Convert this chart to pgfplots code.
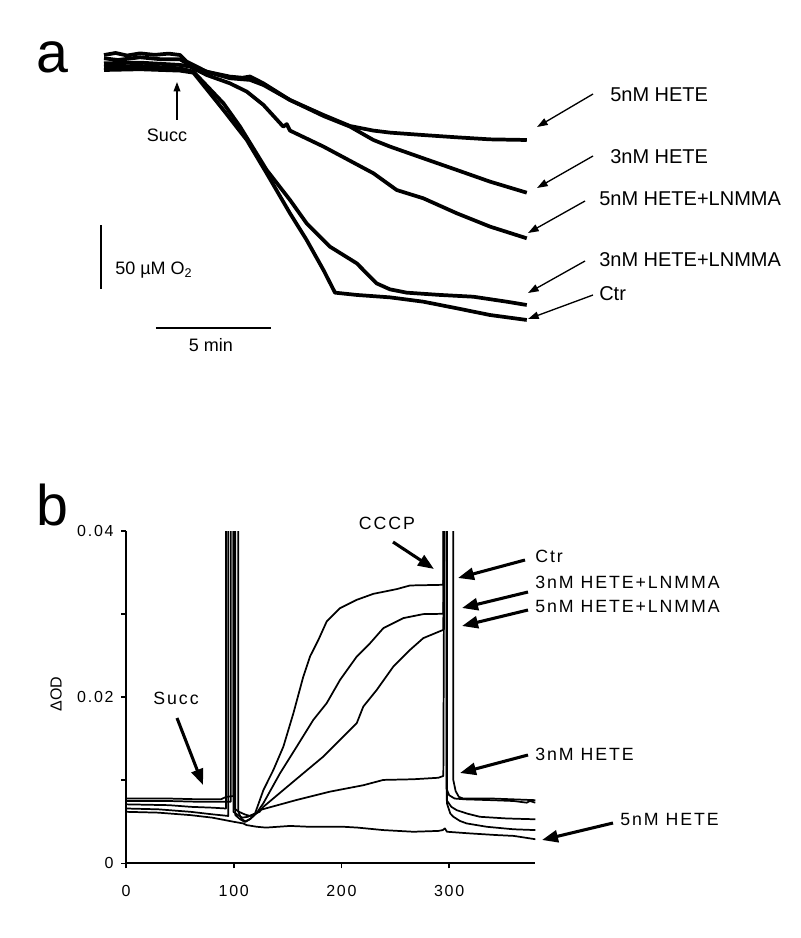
\documentclass[border=0pt]{standalone}
\usepackage{fontspec}
\setmainfont{Liberation Sans}
\newfontfamily\lsfont[LetterSpace=11]{Liberation Sans}
\usepackage{pgfplots}
\pgfplotsset{compat=1.18}
\usetikzlibrary{arrows.meta}
\pgfplotsset{
  tra/.style={black, line width=2.8pt, line join=round, mark=none},
  trb/.style={black, line width=1.3pt, line join=round, mark=none}}
\begin{document}
\begin{tikzpicture}
% ---------- panel a ----------
\begin{axis}[at={(69.34pt,-254.55pt)}, anchor=south west, scale only axis,
  width=329.2pt, height=219.1pt, xmin=-0.5, xmax=18.5, ymin=-220, ymax=10,
  hide axis, clip=false]
% 5nM HETE
\addplot[tra] coordinates {(0,3.9)(0.5,5.5)(1.0,3.5)(1.56,5.2)(2.2,4.0)(2.8,5.0)(3.29,3.9)(3.58,-1.3)(4.44,-9.2)(5.45,-13.1)(6.0,-14.0)(6.32,-13.0)(6.90,-18.4)(8.05,-31.5)(9.50,-43.3)(10.65,-52.0)(11.66,-55.6)(12.38,-57.2)(13.82,-59.1)(15.27,-60.9)(16.71,-62.5)(18.30,-63.0)};
% 3nM HETE
\addplot[tra] coordinates {(0,1.3)(0.6,0.0)(1.56,2.1)(2.5,0.5)(3.29,0.5)(3.58,-2.6)(4.44,-9.2)(5.45,-14.4)(6.32,-15.7)(6.90,-19.7)(8.05,-31.5)(9.50,-44.1)(10.65,-52.5)(11.66,-63.0)(12.38,-68.2)(13.82,-77.4)(15.27,-86.6)(16.71,-95.8)(18.30,-104.5)};
% 5nM HETE+LNMMA
\addplot[tra] coordinates {(0,-2.6)(1.56,-2.1)(3.29,-3.9)(3.72,-5.2)(4.44,-11.8)(5.45,-18.4)(6.18,-24.9)(6.90,-35.4)(7.76,-52.5)(7.91,-50.5)(8.05,-55.6)(9.50,-68.2)(11.66,-89.2)(12.67,-102.4)(13.82,-108.9)(15.27,-120.7)(16.71,-131.2)(18.30,-140.4)};
% 3nM HETE+LNMMA
\addplot[tra] coordinates {(0,-5.2)(1.56,-4.7)(3.29,-6.6)(3.87,-9.2)(5.17,-34.1)(5.89,-52.5)(7.04,-86.6)(8.05,-110.2)(8.77,-128.6)(9.78,-147.0)(10.94,-160.1)(11.80,-175.9)(12.38,-180.6)(13.10,-183.2)(14.55,-185.0)(15.99,-186.4)(17.43,-190.3)(18.30,-192.9)};
% Ctr
\addplot[tra] coordinates {(0,-7.9)(1.56,-7.3)(3.29,-8.4)(3.87,-10.0)(5.17,-39.4)(6.18,-63.0)(7.04,-89.2)(8.05,-120.7)(8.77,-141.7)(9.50,-165.4)(10.0,-183.2)(10.94,-185.0)(12.38,-186.9)(13.82,-190.3)(15.27,-195.5)(16.71,-200.8)(18.30,-204.7)};
% scale bars
\addplot[black, line width=1pt] coordinates {(-0.13,-130)(-0.13,-180)};
\addplot[black, line width=1pt] coordinates {(2.24,-211)(7.24,-211)};
\end{axis}
% ---------- panel b ----------
\begin{axis}[at={(94.5pt,-647.48pt)}, anchor=south west, scale only axis,
  width=307pt, height=249.2pt, xmin=0, xmax=380, ymin=0, ymax=0.04,
  axis lines*=left, tick align=outside, major tick length=3.75pt,
  axis line style={line width=1.4pt}, tick style={line width=1.2pt, black},
  xtick={0,100,200,300}, xticklabels={0,100,200,300},
  ytick={0,0.01,0.02,0.03,0.04}, yticklabels={0,,0.02,,0.04},
  scaled y ticks=false,
  /pgf/number format/assume math mode=true,
  tick label style={font=\lsfont\fontsize{12}{14}\selectfont},
  xticklabel style={yshift=-9pt}, yticklabel style={xshift=-2pt}]
% Ctr
\addplot[trb] coordinates {(0,0.0078)(40,0.0078)(70,0.0077)(88,0.0077)(93,0.0080)(99.7,0.0081)(99.7,0.06)(104.3,0.06)(104.3,0.0062)(107,0.0054)(111,0.0050)(115,0.0053)(119.8,0.0060)(127.5,0.0088)(136.8,0.01124)(146.1,0.01405)(155.4,0.01807)(164.6,0.02248)(170.8,0.02489)(178.6,0.0269)(186.3,0.02911)(198.7,0.03072)(214.2,0.03172)(229.6,0.03244)(251.3,0.03301)(263.7,0.03345)(294.6,0.03353)(295.5,0.06)(303.9,0.06)(303.9,0.0100)(306,0.0087)(309,0.0080)(313,0.0078)(340,0.0078)(360,0.0077)(380,0.0076)};
% 3nM HETE+LNMMA
\addplot[trb] coordinates {(0,0.0075)(40,0.0075)(70,0.0074)(97.2,0.0074)(97.2,0.06)(100.5,0.06)(100.5,0.0066)(105,0.0062)(110,0.0059)(115,0.0057)(121,0.0060)(127.5,0.00723)(143,0.01084)(158.5,0.01405)(173.9,0.01727)(186.3,0.01928)(198.7,0.02208)(214.2,0.02489)(226.6,0.0265)(238.9,0.02831)(257.5,0.02952)(276,0.03)(294.6,0.03004)(295,0.06)(297.5,0.06)(297.5,0.0090)(300,0.0082)(305,0.0078)(315,0.0077)(340,0.0076)(360,0.0075)(372,0.0073)(375,0.0075)(380,0.0073)};
% 5nM HETE+LNMMA
\addplot[trb] coordinates {(0,0.0071)(40,0.0070)(60,0.0068)(80,0.0067)(92.8,0.0066)(92.8,0.06)(99.7,0.06)(99.7,0.0062)(104,0.0058)(108,0.0055)(113,0.0056)(118,0.0059)(124,0.0062)(127.5,0.0068)(146.1,0.00883)(164.6,0.01084)(183.2,0.01285)(198.7,0.01486)(214.2,0.01687)(220.3,0.01887)(232.8,0.02088)(248.2,0.02369)(263.7,0.0257)(276,0.02711)(294.6,0.02811)(295,0.06)(297.7,0.06)(297.7,0.0076)(302,0.0068)(307,0.0064)(316.3,0.0060)(328.6,0.0056)(353.4,0.0054)(380,0.0053)};
% 3nM HETE
\addplot[trb] coordinates {(0,0.0066)(30,0.0065)(60,0.0062)(80,0.0059)(95,0.0057)(95,0.06)(101.5,0.06)(101.5,0.0058)(106,0.0053)(110,0.0050)(116,0.0054)(124.4,0.00642)(158.5,0.00763)(189.4,0.00863)(220.3,0.0094)(238.9,0.01004)(266.8,0.01012)(290,0.0103)(294.6,0.01052)(296,0.06)(298,0.06)(298,0.0072)(301,0.0060)(304,0.0056)(310,0.0051)(316.3,0.0048)(334.8,0.0044)(359.5,0.0041)(380,0.0040)};
% 5nM HETE
\addplot[trb] coordinates {(0,0.0062)(30,0.0061)(60,0.0058)(80,0.0055)(92,0.0052)(100,0.0050)(108.9,0.0048)(112,0.0046)(121.4,0.0044)(130,0.0043)(152.3,0.0045)(170,0.0044)(201.8,0.0044)(215,0.0043)(238.9,0.0040)(266.8,0.0038)(290,0.0039)(294,0.0040)(296,0.0042)(298,0.0038)(319.4,0.0036)(344.2,0.0034)(360,0.0033)(380,0.0029)};
\end{axis}
% ---------- annotations (pixel coordinates) ----------
\begin{scope}[x=0.75pt,y=-0.75pt]
\path (0,0) rectangle (800,938);
\node[anchor=base west, inner sep=0, font=\fontsize{43}{46}\selectfont] at (36,73) {a};
\node[anchor=base west, inner sep=0, font=\fontsize{43}{46}\selectfont] at (36,525) {b};
% panel a
\begin{scope}[font=\fontsize{13.5}{15}\selectfont]
\node[inner sep=0] at (167,135) {Succ};
\node[anchor=west, inner sep=0] at (115,270) {50 µM O\textsubscript{2}};
\node[inner sep=0] at (211,345) {5 min};
\end{scope}
\draw[line width=1pt, -{Triangle[length=7pt,width=5pt]}] (177,120) -- (177,82);
\begin{scope}[font=\fontsize{15}{17}\selectfont]
\node[anchor=west, inner sep=0] at (610,95) {5nM HETE};
\node[anchor=west, inner sep=0] at (610,156.5) {3nM HETE};
\node[anchor=west, inner sep=0] at (599,199) {5nM HETE+LNMMA};
\node[anchor=west, inner sep=0] at (599,260) {3nM HETE+LNMMA};
\node[anchor=west, inner sep=0] at (599,293.5) {Ctr};
\end{scope}
\begin{scope}[line width=1pt, -{Triangle[length=8pt,width=5.5pt]}]
\draw (593,94) -- (537,127);
\draw (593,156) -- (537,188);
\draw (585,201) -- (528,233);
\draw (585,261) -- (528,293);
\draw (593,295) -- (528,319);
\end{scope}
% panel b
\node[rotate=90, inner sep=0, font=\fontsize{12}{14}\selectfont] at (56,694) {ΔOD};
\begin{scope}[font=\lsfont\fontsize{13.3}{15}\selectfont]
\node[inner sep=0] at (176,698) {Succ};
\node[inner sep=0] at (387,523) {CCCP};
\node[anchor=west, inner sep=0] at (535,556) {Ctr};
\node[anchor=west, inner sep=0] at (535,582) {3nM HETE+LNMMA};
\node[anchor=west, inner sep=0] at (535,606) {5nM HETE+LNMMA};
\node[anchor=west, inner sep=0] at (535,754) {3nM HETE};
\node[anchor=west, inner sep=0] at (620,819) {5nM HETE};
\end{scope}
\begin{scope}[line width=2.3pt, -{Triangle[length=12pt,width=9pt]}]
\draw (177,718) -- (203,785);
\draw (393,542) -- (434,569);
\draw (525,560) -- (458,578);
\draw (528,592) -- (462,608);
\draw (528,610) -- (462,626);
\draw (528,755) -- (460,773);
\draw (613,823) -- (542,840);
\end{scope}
\end{scope}
\end{tikzpicture}
\end{document}
